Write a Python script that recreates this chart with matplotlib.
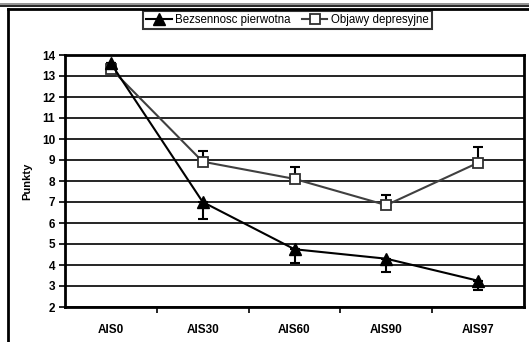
import matplotlib
matplotlib.use("Agg")
import matplotlib.pyplot as plt
from matplotlib.lines import Line2D
import numpy as np

categories = ["AIS0", "AIS30", "AIS60", "AIS90", "AIS97"]
bezsennosc = [13.6, 7.0, 4.75, 4.3, 3.25]
bezsennosc_err = [0.0, 0.8, 0.65, 0.65, 0.45]
objawy = [13.35, 8.92, 8.1, 6.85, 8.87]
objawy_err = [0.0, 0.52, 0.57, 0.5, 0.75]
yticks = list(range(2, 15))

plt.rcParams['font.family'] = ['Liberation Sans', 'DejaVu Sans']

fig = plt.figure(figsize=(5.29, 3.42), dpi=100)
W, H = 529, 342
ax = fig.add_axes([65 / W, 1 - 307 / H, (524 - 65) / W, (307 - 55) / H])

x = np.arange(len(categories))
ax.errorbar(x, bezsennosc, yerr=[bezsennosc_err, [0] * len(x)], fmt='none',
            ecolor='black', elinewidth=1.5, capsize=3.5, capthick=1.5, zorder=3)
ax.errorbar(x, objawy, yerr=[[0] * len(x), objawy_err], fmt='none',
            ecolor='black', elinewidth=1.5, capsize=3.5, capthick=1.5, zorder=3)
ax.plot(x, objawy, color='#404040', lw=1.5, marker='s', markersize=7,
        markerfacecolor='white', markeredgecolor='#303030', markeredgewidth=1.3, zorder=4)
ax.plot(x, bezsennosc, color='black', lw=1.5, marker='^', markersize=8,
        markerfacecolor='black', markeredgecolor='black', zorder=5)

ax.set_xlim(-0.5, len(categories) - 0.5)
ax.set_ylim(2, 14)
ax.set_yticks(yticks)
ax.set_yticklabels([str(v) for v in yticks], fontweight='bold', fontsize=8.5)
ax.set_xticks(x)
ax.set_xticklabels(categories, fontweight='bold', fontsize=8.5)
ax.set_xticks(np.arange(0.5, len(categories) - 0.5, 1), minor=True)
ax.tick_params(axis='x', which='major', length=0, pad=12)
ax.tick_params(axis='x', which='minor', length=4, width=1.2, direction='out')
ax.tick_params(axis='y', length=4, width=1.2, direction='out', pad=3)
ax.yaxis.grid(True, color='black', lw=1.2)
ax.set_axisbelow(True)
for s in ax.spines.values():
    s.set_linewidth(2)
    s.set_color('black')
ax.set_ylabel("Punkty", fontweight='bold', fontsize=8, labelpad=7)

handles = [
    Line2D([], [], color='black', lw=1.5, marker='^', markersize=8,
           markerfacecolor='black', markeredgecolor='black'),
    Line2D([], [], color='#404040', lw=1.5, marker='s', markersize=7,
           markerfacecolor='white', markeredgecolor='#303030', markeredgewidth=1.3),
]
leg = fig.legend(handles, ["Bezsennosc pierwotna", "Objawy depresyjne"],
                 loc='center', bbox_to_anchor=(287.5 / W, 1 - 20 / H), ncol=2,
                 fontsize=8.3, frameon=True, fancybox=False, edgecolor='black',
                 handlelength=2.2, handletextpad=0.3, columnspacing=1.0,
                 borderpad=0.25, borderaxespad=0)
leg.get_frame().set_linewidth(1.5)

# outer frame and top double line
fig.add_artist(Line2D([0, 1], [1 - 3.5 / H, 1 - 3.5 / H], color='#808080', lw=1.2))
fig.add_artist(Line2D([0, 1], [1 - 5.5 / H, 1 - 5.5 / H], color='black', lw=1.2))
fig.add_artist(Line2D([7.5 / W, 1], [1 - 8.5 / H, 1 - 8.5 / H], color='black', lw=2))
fig.add_artist(Line2D([7.5 / W, 7.5 / W], [0, 1 - 8.5 / H], color='black', lw=2))

fig.savefig("out.png", dpi=100)
